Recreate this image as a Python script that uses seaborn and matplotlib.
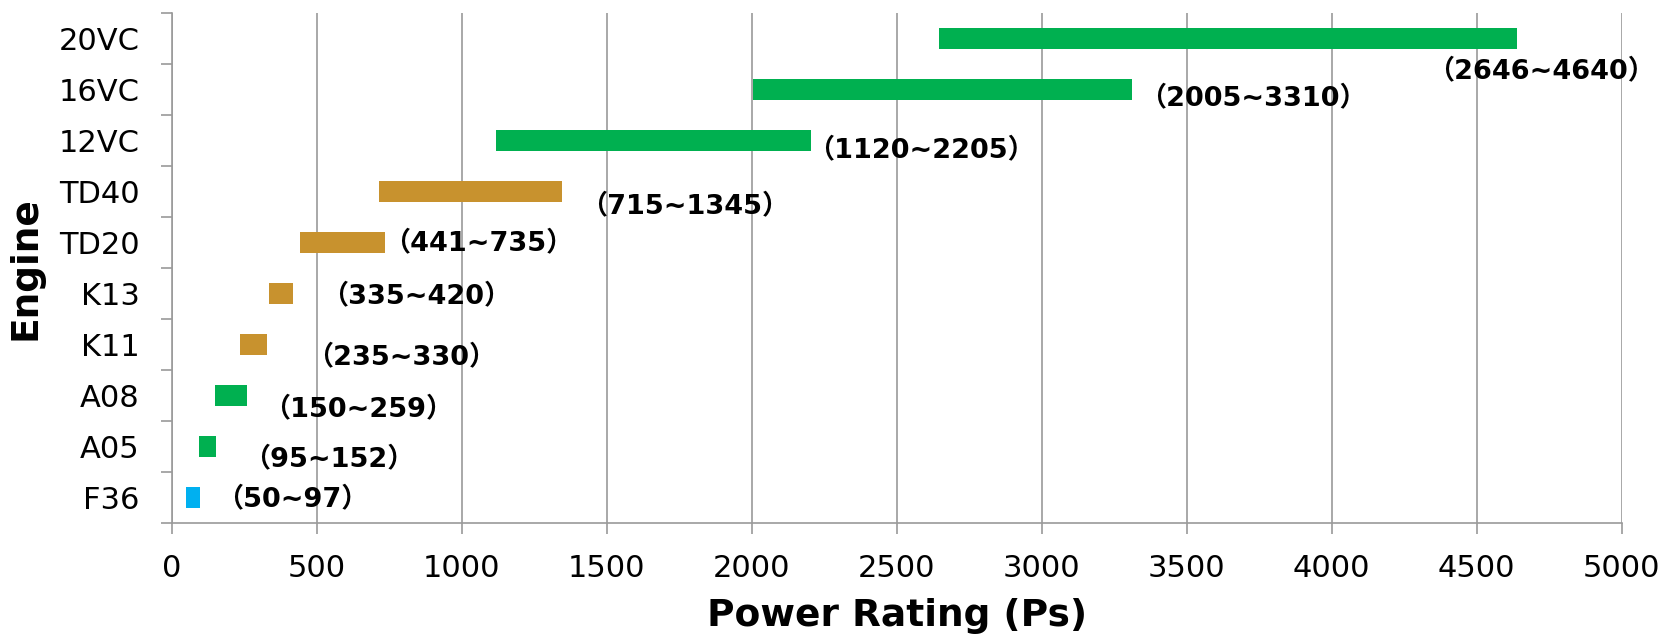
import numpy as np
import pandas as pd
import seaborn as sns
from matplotlib import pyplot as plt
from matplotlib.ticker import MultipleLocator, FixedLocator

# engine power ranges, top row first
engines = ['20VC', '16VC', '12VC', 'TD40', 'TD20', 'K13', 'K11', 'A08', 'A05', 'F36']
power_min = [2646, 2005, 1120, 715, 441, 335, 235, 150, 95, 50]
power_max = [4640, 3310, 2205, 1345, 735, 420, 330, 259, 152, 97]
bar_colors = ['#00B050', '#00B050', '#00B050', '#C8922E', '#C8922E',
              '#C8922E', '#C8922E', '#00B050', '#00B050', '#00B0F0']

# label nudges (pixels) from the bar end, like dragged excel data labels
label_offsets = [(-90, -33), (8, -9), (-4, -10), (18, -15), (-2, -1),
                 (28, -3), (39, -13), (16, -14), (27, -13), (16, -2)]

df = pd.DataFrame({'engine': engines, 'pmin': power_min, 'pmax': power_max})
df['span'] = df['pmax'] - df['pmin']

sns.set_style('white')
plt.rcParams['font.family'] = ['DejaVu Sans', 'Noto Sans CJK SC']
plt.rcParams['text.color'] = 'black'
plt.rcParams['axes.labelcolor'] = 'black'
plt.rcParams['xtick.labelcolor'] = 'black'
plt.rcParams['ytick.labelcolor'] = 'black'

fig = plt.figure(figsize=(16.73, 6.36), dpi=100)
ax = fig.add_axes([0.1026, 0.1777, 0.9693 - 0.1026, 0.9796 - 0.1777])

sns.barplot(data=df, x='span', y='engine', order=engines, left=df['pmin'].values,
            color='#00B050', width=0.4, errorbar=None, linewidth=0, ax=ax)
for patch, c in zip(ax.patches, bar_colors):
    patch.set_facecolor(c)

ax.set_xlim(0, 5000)
ax.set_ylim(len(engines) - 0.5, -0.5)

grid_c = '#9a9a9a'
ax.xaxis.set_major_locator(MultipleLocator(500))
ax.grid(axis='x', color=grid_c, linewidth=1.2)
ax.grid(axis='y', visible=False)
ax.set_axisbelow(True)

for s in ['top', 'right']:
    ax.spines[s].set_visible(False)
for s in ['left', 'bottom']:
    ax.spines[s].set_color(grid_c)
    ax.spines[s].set_linewidth(1.2)

ax.yaxis.set_minor_locator(FixedLocator(np.arange(-0.5, len(engines), 1)))
ax.tick_params(axis='y', which='major', length=0, pad=23, labelsize=22)
ax.tick_params(axis='y', which='minor', length=8, width=1.2, color=grid_c, left=True)
ax.tick_params(axis='x', which='major', length=8, width=1.2, color=grid_c,
               bottom=True, pad=14, labelsize=22)

for i, (lo, hi) in enumerate(zip(power_min, power_max)):
    dx, dy = label_offsets[i]
    ax.annotate(f'（{lo}~{hi}）', xy=(hi, i), xytext=(dx, dy),
                textcoords='offset pixels', ha='left', va='center',
                fontsize=19.5, fontweight='bold', color='black',
                family=['DejaVu Sans', 'Noto Sans CJK SC'], annotation_clip=False)

ax.set_xlabel('Power Rating (Ps)', fontsize=27, fontweight='bold', labelpad=11)
ax.set_ylabel('Engine', fontsize=27, fontweight='bold', labelpad=11)

plt.savefig('out.png', dpi=100)
